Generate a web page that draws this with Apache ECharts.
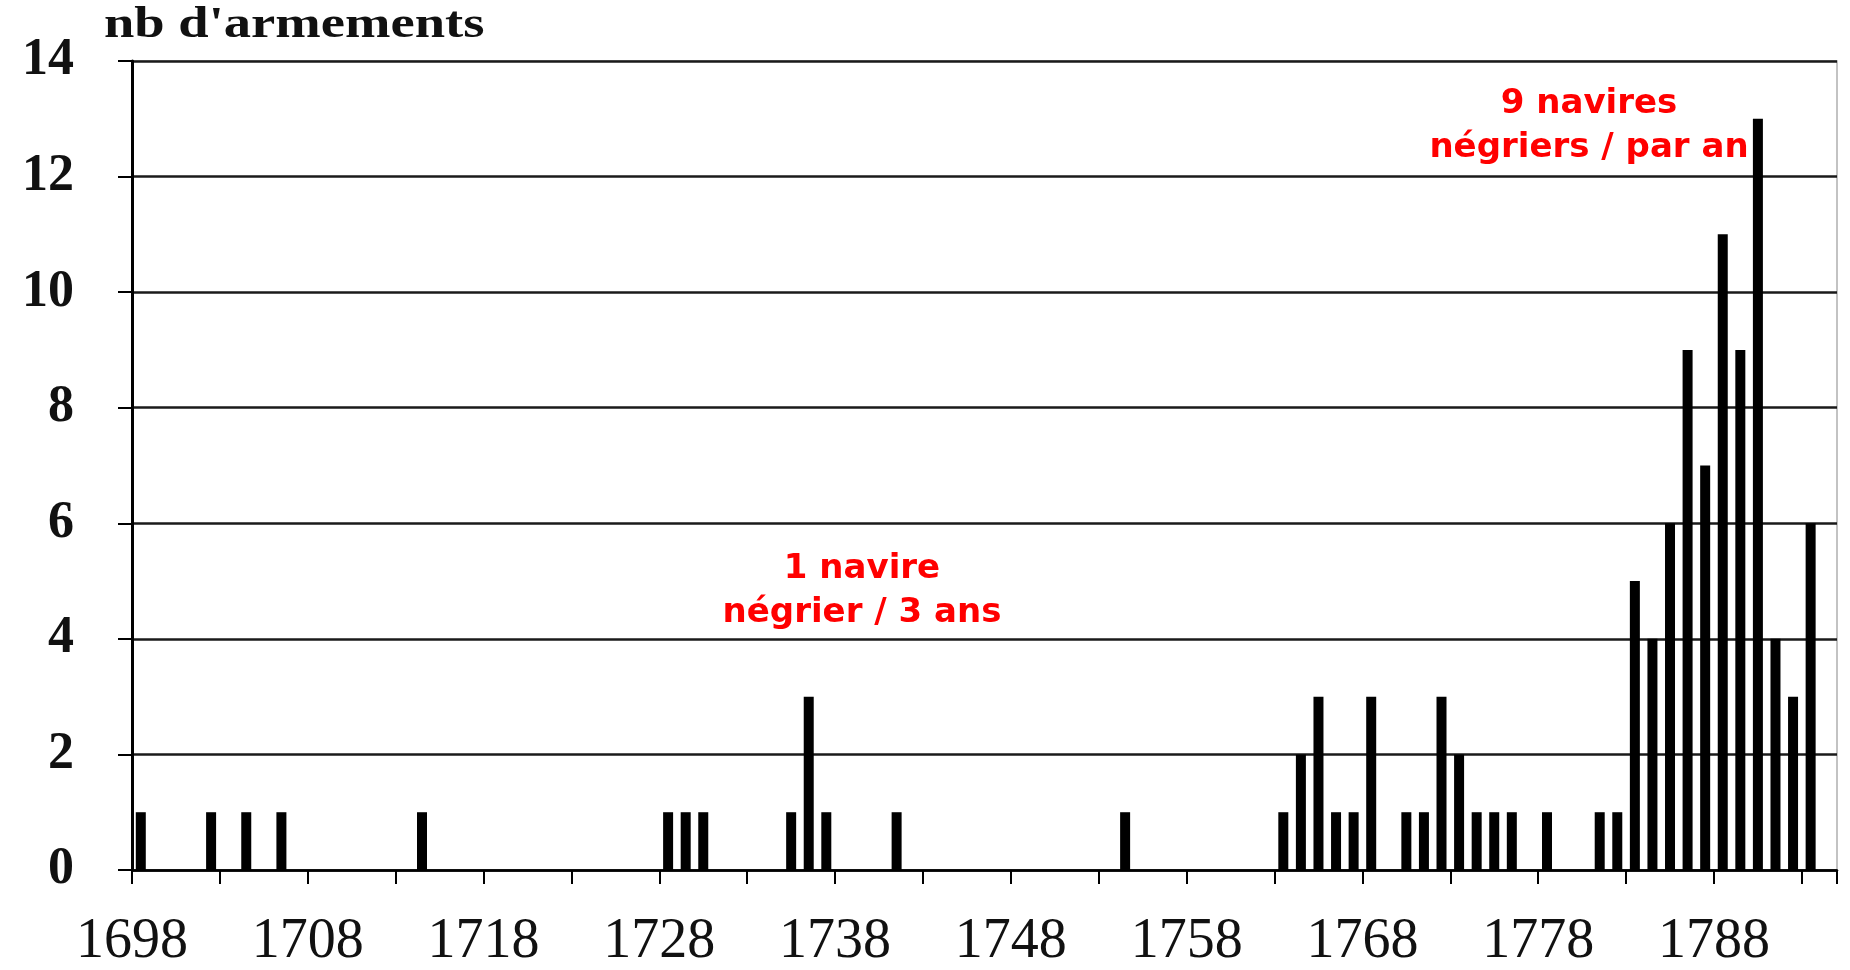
<!DOCTYPE html>
<html>
<head>
<meta charset="utf-8">
<script src="https://cdn.jsdelivr.net/npm/echarts@6/dist/echarts.min.js"></script>
<style>
html,body{margin:0;padding:0;background:#fff;}
#chart{width:1850px;height:970px;}
</style>
</head>
<body>
<div id="chart"></div>
<script>
// ---- data ----
const firstYear = 1698;
const lastYear = 1794;
const years  = [1698,1702,1704,1706,1714,1728,1729,1730,1735,1736,1737,1741,1754,
                1763,1764,1765,1766,1767,1768,1770,1771,1772,1773,1774,1775,1776,1778,
                1781,1782,1783,1784,1785,1786,1787,1788,1789,1790,1791,1792,1793];
const counts = [1,1,1,1,1,1,1,1,1,3,1,1,1,
                1,2,3,1,1,3,1,1,3,2,1,1,1,1,
                1,1,5,4,6,9,7,11,9,13,4,3,6];
const labelYears = [1698,1708,1718,1728,1738,1748,1758,1768,1778,1788];
const yTicks = [0,2,4,6,8,10,12,14];
const yAxisTitle = "nb d'armements";
const note1 = ['1 navire', 'négrier / 3 ans'];
const note2 = ['9 navires', 'négriers / par an'];

// categories (one per year) and values
const categories = [];
for (let y = firstYear; y <= lastYear; y++) categories.push(String(y));
const values = categories.map(c => {
  const i = years.indexOf(+c);
  return i >= 0 ? counts[i] : 0;
});

const chart = echarts.init(document.getElementById('chart'), null, {renderer: 'canvas'});
const gridLeft = 132, gridRight = 13;
const bandW = (1850 - gridLeft - gridRight) / categories.length;

chart.setOption({
  backgroundColor: '#ffffff',
  animation: false,
  grid: {left: gridLeft, right: gridRight, top: 61, bottom: 99,
         show: true, borderColor: '#b0b0b0', borderWidth: 1.5, backgroundColor: 'transparent'},
  xAxis: {
    type: 'category',
    data: categories,
    boundaryGap: true,
    axisLine: {show: true, lineStyle: {color: '#000', width: 2.5}},
    axisTick: {show: true, length: 14, alignWithLabel: false,
               interval: (i) => i % 5 === 0,
               lineStyle: {color: '#000', width: 2}},
    axisLabel: {
      interval: (i, v) => labelYears.indexOf(+v) >= 0,
      margin: 44,
      padding: [0, bandW, 0, 0],
      fontFamily: 'Liberation Serif',
      fontSize: 56,
      color: '#111'
    },
    splitLine: {show: false}
  },
  yAxis: {
    type: 'value',
    min: yTicks[0],
    max: yTicks[yTicks.length - 1],
    interval: yTicks[1] - yTicks[0],
    axisLine: {show: true, lineStyle: {color: '#000', width: 3}},
    axisTick: {show: true, length: 14, lineStyle: {color: '#000', width: 2}},
    axisLabel: {
      margin: 58,
      fontFamily: 'Liberation Serif',
      fontWeight: 'bold',
      fontSize: 52,
      color: '#111'
    },
    splitLine: {show: true, lineStyle: {color: '#1a1a1a', width: 2.5}}
  },
  series: [{
    type: 'bar',
    data: values,
    barWidth: 10,
    itemStyle: {color: '#000'},
    silent: true
  }],
  graphic: [
    {type: 'text', x: 104, y: 26, scaleX: 1.24,
     style: {text: yAxisTitle, font: 'bold 44px "Liberation Serif"', fill: '#111',
             textAlign: 'left', textVerticalAlign: 'middle'}},
    {type: 'text', x: 862, y: 591,
     style: {text: note1.join('\n'), font: 'bold 34px "DejaVu Sans"', fill: '#ff0000',
             textAlign: 'center', textVerticalAlign: 'middle', lineHeight: 44}},
    {type: 'text', x: 1589, y: 126,
     style: {text: note2.join('\n'), font: 'bold 34px "DejaVu Sans"', fill: '#ff0000',
             textAlign: 'center', textVerticalAlign: 'middle', lineHeight: 44}}
  ]
});
</script>
</body>
</html>
